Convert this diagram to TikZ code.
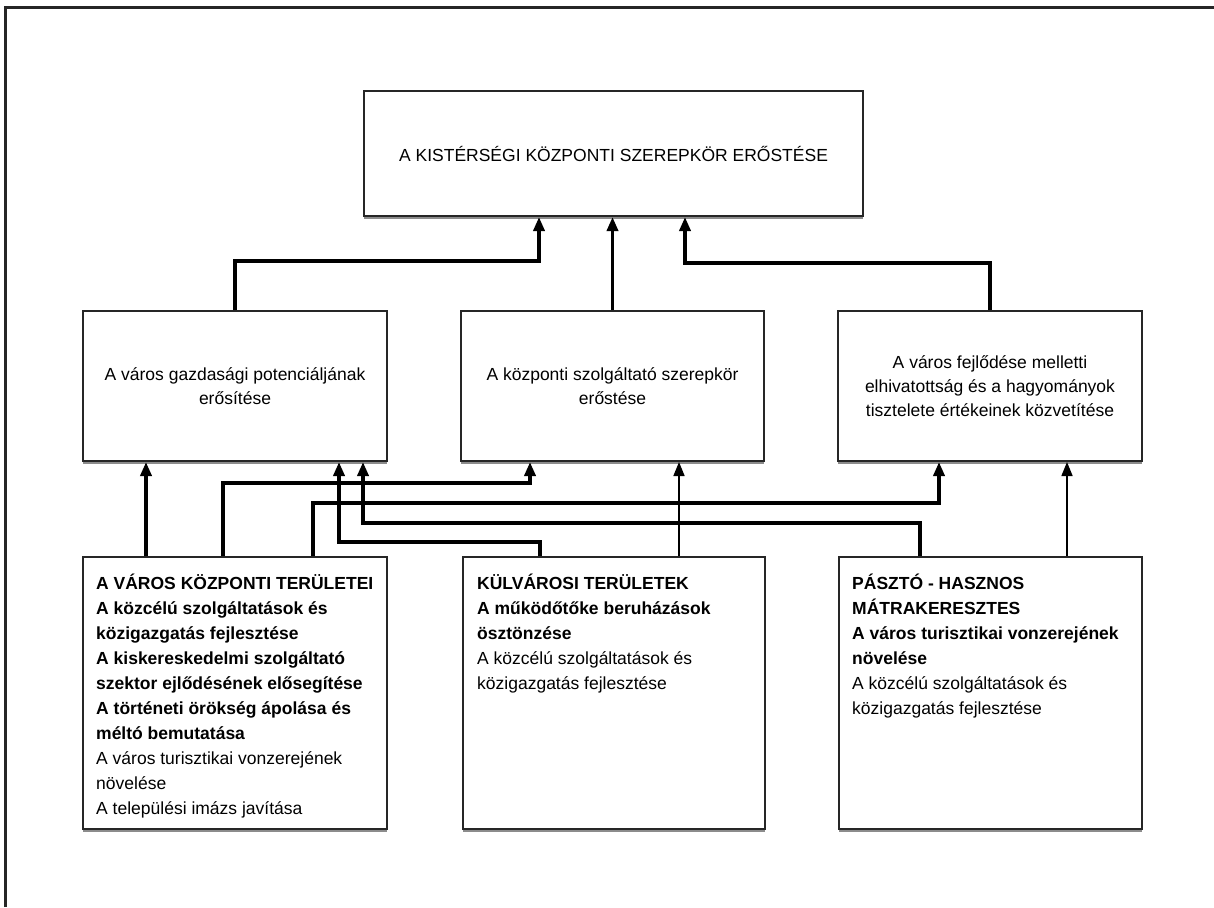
\documentclass[tikz,border=0pt]{standalone}
\usepackage{fontspec}
\setmainfont{Liberation Sans}
\usetikzlibrary{arrows.meta,shadows}
\begin{document}
\begin{tikzpicture}[x=1pt,y=-1pt,
  box/.style={draw=black!85, line width=2pt, fill=white, inner sep=0pt,
    drop shadow={shadow xshift=0pt, shadow yshift=-2.5pt, fill=black!45, opacity=1}},
  txt/.style={font=\fontsize{17.5}{24}\selectfont, inner sep=0pt},
  btxt/.style={font=\fontsize{17.5}{25}\selectfont, inner sep=0pt, align=left, anchor=north west},
  conn/.style={line width=3.5pt, draw=black, -{Triangle[length=14pt,width=11pt]}},
  thinconn/.style={line width=1.6pt, draw=black, -{Triangle[length=14pt,width=11pt]}},
]
\useasboundingbox (0,0) rectangle (1214,907);
\fill[white] (0,0) rectangle (1214,907);
\draw[line width=3pt, black!85] (5,907) -- (5,8) -- (1214,8);

% top
\node[box, txt, minimum width=499pt, minimum height=125pt] (top) at (613.5,153.5)
  {A KISTÉRSÉGI KÖZPONTI SZEREPKÖR ERŐSTÉSE};

% middle row
\node[box, txt, align=center, minimum width=304pt, minimum height=150pt] (midL) at (235,386)
  {A város gazdasági potenciáljának\\erősítése};
\node[box, txt, align=center, minimum width=303pt, minimum height=150pt] (midM) at (612.5,386)
  {A központi szolgáltató szerepkör\\erőstése};
\node[box, txt, align=center, minimum width=304pt, minimum height=150pt] (midR) at (990,386)
  {A város fejlődése melletti\\elhivatottság és a hagyományok\\tisztelete értékeinek közvetítése};

% bottom row
\node[box, minimum width=304pt, minimum height=272pt] (botL) at (235,693) {};
\node[box, minimum width=302pt, minimum height=272pt] (botM) at (614,693) {};
\node[box, minimum width=303pt, minimum height=272pt] (botR) at (990.5,693) {};

\node[btxt] (botLtxt) at ([xshift=14pt,yshift=-17.5pt]botL.north west)
  {\textbf{A VÁROS KÖZPONTI TERÜLETEI}\\
   \textbf{A közcélú szolgáltatások és}\\
   \textbf{közigazgatás fejlesztése}\\
   \textbf{A kiskereskedelmi szolgáltató}\\
   \textbf{szektor ejlődésének elősegítése}\\
   \textbf{A történeti örökség ápolása és}\\
   \textbf{méltó bemutatása}\\
   A város turisztikai vonzerejének\\
   növelése\\
   A települési imázs javítása};
\node[btxt] (botMtxt) at ([xshift=15pt,yshift=-17.5pt]botM.north west)
  {\textbf{KÜLVÁROSI TERÜLETEK}\\
   \textbf{A működőtőke beruházások}\\
   \textbf{ösztönzése}\\
   A közcélú szolgáltatások és\\
   közigazgatás fejlesztése};
\node[btxt] (botRtxt) at ([xshift=14pt,yshift=-17.5pt]botR.north west)
  {\textbf{PÁSZTÓ - HASZNOS}\\
   \textbf{MÁTRAKERESZTES}\\
   \textbf{A város turisztikai vonzerejének}\\
   \textbf{növelése}\\
   A közcélú szolgáltatások és\\
   közigazgatás fejlesztése};

% connectors to top
\coordinate (tl) at ([xshift=-74.5pt]top.south);
\coordinate (tr) at ([xshift=71.5pt]top.south);
\draw[conn] (midL.north) |- ([yshift=-44pt]tl) -- (tl);
\draw[conn] (midM.north) -- (midM.north |- top.south);
\draw[conn] (midR.north) |- ([yshift=-46pt]tr) -- (tr);

% connectors from bottom row
\coordinate (a1) at ([xshift=-89pt]botL.north);
\draw[conn] (a1) -- (a1 |- midL.south);
\coordinate (a2) at ([xshift=-12pt]botL.north);
\coordinate (e2) at ([xshift=-82.5pt]midM.south);
\draw[conn] (a2) |- ([yshift=-21pt]e2) -- (e2);
\coordinate (a3) at ([xshift=78pt]botL.north);
\coordinate (e3) at ([xshift=-51pt]midR.south);
\draw[conn] (a3) |- ([yshift=-41pt]e3) -- (e3);
\coordinate (a4) at ([xshift=-74pt]botM.north);
\coordinate (e4) at ([xshift=104pt]midL.south);
\draw[conn] (a4) |- ([yshift=-80pt]e4) -- (e4);
\coordinate (a5) at ([xshift=65pt]botM.north);
\draw[thinconn] (a5) -- (a5 |- midM.south);
\coordinate (a6) at ([xshift=-70.5pt]botR.north);
\coordinate (e6) at ([xshift=128pt]midL.south);
\draw[conn] (a6) |- ([yshift=-61pt]e6) -- (e6);
\coordinate (a7) at ([xshift=76.5pt]botR.north);
\draw[thinconn] (a7) -- (a7 |- midR.south);
\end{tikzpicture}
\end{document}
